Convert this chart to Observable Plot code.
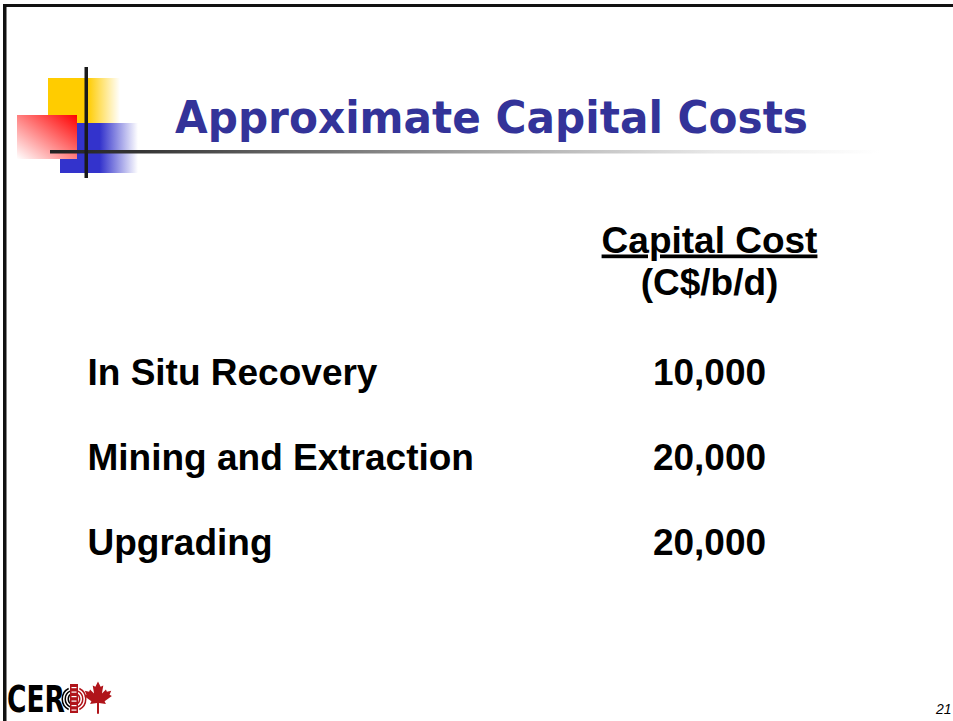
<!DOCTYPE html>
<html><head><meta charset="utf-8">
<script src="https://cdn.jsdelivr.net/npm/d3@7"></script>
<script src="https://cdn.jsdelivr.net/npm/@observablehq/plot@0.6"></script>
<style>
html,body{margin:0;padding:0;background:#fff;}
#chart{position:relative;width:953px;height:721px;overflow:hidden;}
</style></head><body><div id="chart"></div>
<script>
const title = "Approximate Capital Costs";
const columns = ["Item", "Capital Cost"];
const headerLines = ["Capital Cost", "(C$/b/d)"];
const categories = ["In Situ Recovery", "Mining and Extraction", "Upgrading"];
const costs = [10000, 20000, 20000];
const pageNumber = "21";
const logoText = "CER";

const rows = categories.map((c, i) => ({category: c, cost: costs[i]}));
const fmt = d3.format(",");
const textStyle = {fill: "#000", fontSize: 37, fontWeight: "bold"};

const plot = Plot.plot({
  width: 953, height: 721, margin: 0,
  style: {background: "#fff", fontFamily: "'Liberation Sans', Arial, sans-serif", fontWeight: "bold", fontSize: "37px", color: "#000", overflow: "visible"},
  x: {type: "point", domain: columns, range: [87, 709], padding: 0, axis: null},
  y: {type: "point", domain: categories, range: [383, 554], padding: 0, axis: null},
  marks: [
    Plot.text(rows, {x: () => columns[0], y: "category", text: "category", textAnchor: "start", lineAnchor: "bottom", ...textStyle}),
    Plot.text(rows, {x: () => columns[1], y: "category", text: d => fmt(d.cost), textAnchor: "middle", lineAnchor: "bottom", ...textStyle}),
    Plot.text([headerLines[0]], {x: () => columns[1], frameAnchor: "top", dy: 252, text: d => d, textAnchor: "middle", lineAnchor: "bottom", ...textStyle}),
    Plot.text([headerLines[1]], {x: () => columns[1], frameAnchor: "top", dy: 294, text: d => d, textAnchor: "middle", lineAnchor: "bottom", ...textStyle})
  ]
});

const svg = d3.select(plot);
svg.selectAll("text").filter(function(){ return this.textContent === headerLines[0]; })
  .style("text-decoration", "underline");

const defs = svg.insert("defs", ":first-child");
function lg(id, x1, y1, x2, y2, stops) {
  const g = defs.append("linearGradient").attr("id", id)
    .attr("x1", x1).attr("y1", y1).attr("x2", x2).attr("y2", y2);
  stops.forEach(([o, c, op]) => g.append("stop").attr("offset", o).attr("stop-color", c).attr("stop-opacity", op ?? 1));
}
lg("gy", 0, 0, 1, 0, [[0, "#FFCC00"], [0.55, "#FFCC00"], [1, "#FFCC00", 0]]);
lg("gb", 0, 0, 1, 0, [[0, "#3333CC"], [0.51, "#3333CC"], [1, "#3333CC", 0]]);
lg("gr", 1, 0, 0, 1, [[0, "#FF0000"], [1, "#FFFFFF"]]);
lg("gl", 0, 0, 1, 0, [[0, "#222"], [0.1, "#333"], [0.5, "#a0a0a0"], [0.8, "#e8e8e8"], [1, "#fff"]]);

const deco = svg.insert("g", "defs + *").attr("text-anchor", "start");
// slide border
deco.append("rect").attr("x", 3).attr("y", 4).attr("width", 950).attr("height", 3).attr("fill", "#111");
deco.append("rect").attr("x", 3).attr("y", 4).attr("width", 3.5).attr("height", 717).attr("fill", "#111");
// corner ornament
deco.append("rect").attr("x", 48).attr("y", 78).attr("width", 72).attr("height", 45).attr("fill", "url(#gy)");
deco.append("rect").attr("x", 60).attr("y", 123).attr("width", 78).attr("height", 50).attr("fill", "url(#gb)");
deco.append("rect").attr("x", 17).attr("y", 115).attr("width", 60).attr("height", 44).attr("fill", "url(#gr)");
deco.append("rect").attr("x", 50).attr("y", 150).attr("width", 830).attr("height", 3.5).attr("fill", "url(#gl)");
deco.append("rect").attr("x", 84.5).attr("y", 67).attr("width", 3.5).attr("height", 111).attr("fill", "#1a1a1a");
// title
deco.append("text").attr("x", 175).attr("y", 133).attr("text-anchor", "start")
  .attr("font-family", "'DejaVu Sans', Verdana, sans-serif").attr("font-weight", "bold")
  .attr("font-size", 44).attr("fill", "#333399")
  .attr("textLength", 633).attr("lengthAdjust", "spacingAndGlyphs").text(title);
// page number
deco.append("text").attr("x", 936).attr("y", 714).attr("text-anchor", "start")
  .attr("font-family", "'Liberation Sans', Arial, sans-serif").attr("font-style", "italic").attr("font-weight", "normal")
  .attr("font-size", 14).attr("fill", "#000").text(pageNumber);
// logo
const logo = deco.append("g");
logo.append("text").attr("x", 7).attr("y", 712).attr("text-anchor", "start")
  .attr("font-family", "'Liberation Sans Narrow', 'DejaVu Sans Condensed', sans-serif").attr("font-weight", "bold")
  .attr("font-size", 38).attr("fill", "#000")
  .attr("textLength", 58).attr("lengthAdjust", "spacingAndGlyphs").text(logoText);
const arc = d3.arc();
[5, 8, 11].forEach(r => {
  logo.append("path").attr("transform", "translate(74,699)")
    .attr("d", arc({innerRadius: r, outerRadius: r + 1.5, startAngle: Math.PI * 1.15, endAngle: Math.PI * 1.85}))
    .attr("fill", "#000");
  logo.append("path").attr("transform", "translate(74,699)")
    .attr("d", arc({innerRadius: r, outerRadius: r + 1.5, startAngle: Math.PI * 0.15, endAngle: Math.PI * 0.85}))
    .attr("fill", "#b0141a");
});
logo.append("rect").attr("x", 70).attr("y", 684).attr("width", 8).attr("height", 29).attr("fill", "#b0141a");
for (let i = 0; i < 6; i++) {
  logo.append("rect").attr("x", 71.5).attr("y", 687 + i * 4.5).attr("width", 5).attr("height", 1.2).attr("fill", "#fff");
}
const leaf = [[0,-50],[-8,-34],[-16,-38],[-12,-14],[-24,-26],[-27,-19],[-40,-22],[-35,-10],[-42,-6],[-20,10],[-24,18],[-3,15],[-3,48],[3,48],[3,15],[24,18],[20,10],[42,-6],[35,-10],[40,-22],[27,-19],[24,-26],[12,-14],[16,-38],[8,-34]];
logo.append("path").attr("transform", "translate(98,698) scale(0.33)")
  .attr("d", "M" + leaf.map(p => p.join(",")).join("L") + "Z").attr("fill", "#b0141a");

document.getElementById("chart").appendChild(plot);
</script>
</body></html>
